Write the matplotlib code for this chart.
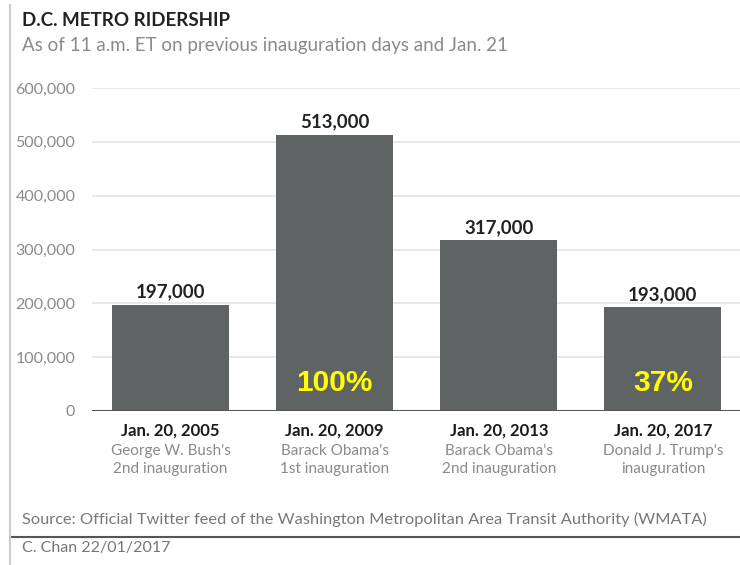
import matplotlib.pyplot as plt
from matplotlib.ticker import FuncFormatter
from matplotlib.lines import Line2D

# data
dates = ["Jan. 20, 2005", "Jan. 20, 2009", "Jan. 20, 2013", "Jan. 20, 2017"]
events = ["George W. Bush's\n2nd inauguration", "Barack Obama's\n1st inauguration",
          "Barack Obama's\n2nd inauguration", "Donald J. Trump's\ninauguration"]
riders = [197000, 513000, 317000, 193000]
pct_labels = {1: "100%", 3: "37%"}
yticks = [0, 100000, 200000, 300000, 400000, 500000, 600000]

plt.rcParams["font.family"] = ["Lato", "DejaVu Sans"]

fig = plt.figure(figsize=(7.4, 5.65), dpi=100)
ax = fig.add_axes([92 / 740, 1 - 411 / 565, 1 - 92 / 740, (411 - 88) / 565])

x = list(range(len(riders)))
ax.bar(x, riders, width=0.713, color="#5f6363", zorder=2)
ax.set_xlim(-0.479, 3.47)
ax.set_ylim(0, 600000)

ax.set_yticks(yticks)
ax.yaxis.set_major_formatter(FuncFormatter(lambda v, p: f"{int(v):,}"))
ax.tick_params(axis="y", length=0, pad=12, labelsize=11.5, labelcolor="#8a8a8a")
ax.set_xticks([])
ax.grid(axis="y", color="#e4e4e4", linewidth=1.2, zorder=0)
ax.axhline(0, color="#555555", linewidth=1.5, zorder=3)
for s in ax.spines.values():
    s.set_visible(False)

for i, v in enumerate(riders):
    ax.text(i, v + 8000, f"{v:,}", ha="center", va="bottom", fontsize=13.5,
            fontweight="bold", color="#222222")
    ax.text(i, -22000, dates[i], ha="center", va="top", fontsize=12,
            fontweight="bold", color="#1a1a1a")
    ax.text(i, -61000, events[i], ha="center", va="top", fontsize=11,
            color="#8a8a8a", linespacing=1.4)

for i, lab in pct_labels.items():
    ax.text(i, 52000, lab, ha="center", va="center", fontsize=21.5,
            fontweight="bold", color="#ffff00", family="Liberation Sans")

fig.text(22 / 740, 1 - 20 / 565, "D.C. METRO RIDERSHIP", fontsize=13.5,
         fontweight="bold", color="#222222", va="center")
fig.text(22 / 740, 1 - 45 / 565, "As of 11 a.m. ET on previous inauguration days and Jan. 21",
         fontsize=13.5, color="#8a8a8a", va="center")
fig.text(22 / 740, 1 - 519 / 565,
         "Source: Official Twitter feed of the Washington Metropolitan Area Transit Authority (WMATA)",
         fontsize=11.8, color="#777777", va="center")
fig.text(22 / 740, 1 - 548 / 565, "C. Chan 22/01/2017", fontsize=11.5,
         color="#777777", va="center")

fig.add_artist(Line2D([12 / 740, 1], [1 - 537 / 565] * 2, color="#555555",
                      linewidth=1.5, transform=fig.transFigure))
fig.add_artist(Line2D([10 / 740] * 2, [0, 1 - 5 / 565], color="#cccccc",
                      linewidth=1.5, transform=fig.transFigure))

fig.savefig("out.png", dpi=100)
